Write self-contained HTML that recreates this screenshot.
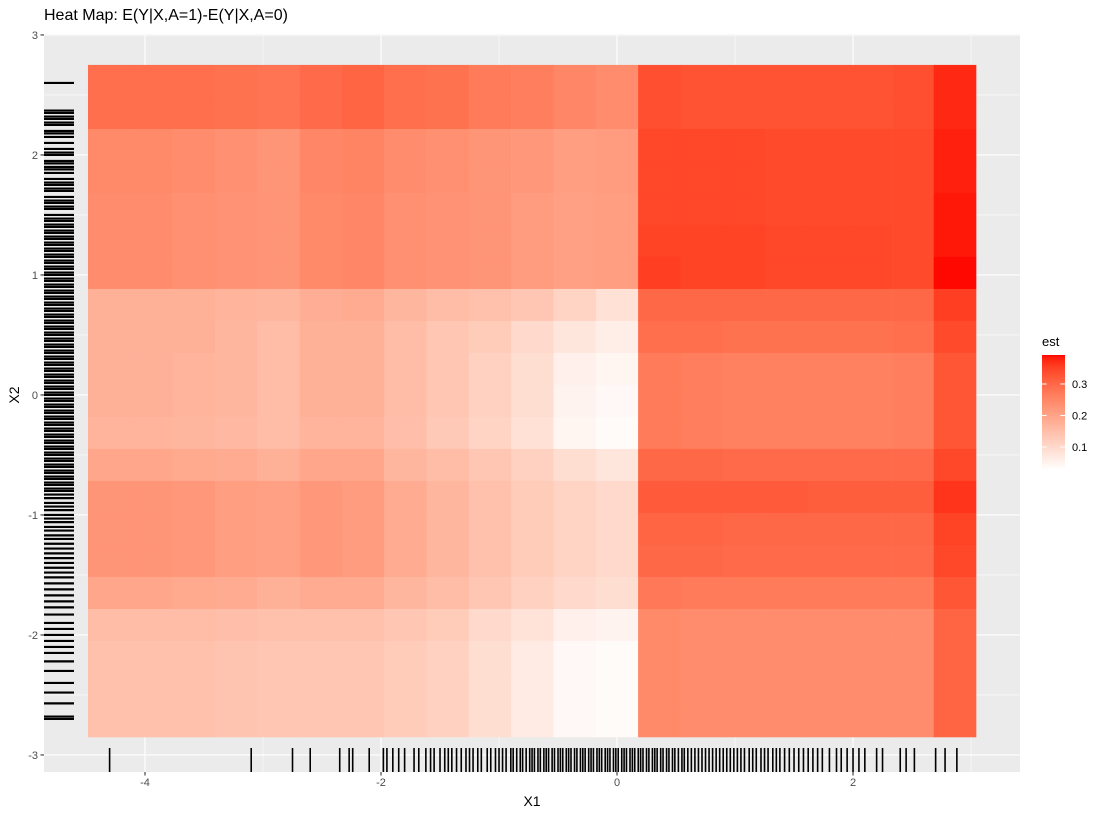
<!DOCTYPE html>
<html><head><meta charset="utf-8"><style>
body{margin:0;background:#fff;width:1104px;height:816px;overflow:hidden}
svg text{font-family:"Liberation Sans",sans-serif}
</style></head><body>
<svg id="chart" width="1104" height="816" xmlns="http://www.w3.org/2000/svg">
<text x="44" y="20" font-size="16" fill="#000">Heat Map: E(Y|X,A=1)-E(Y|X,A=0)</text>
<rect x="44" y="34" width="976" height="738" fill="#EBEBEB"/>
<g id="grid"></g><g id="tiles"></g><g id="rugs"></g><g id="axes"></g><g id="legend"></g>
<text x="532" y="806" font-size="14" text-anchor="middle">X1</text>
<text x="19" y="395" font-size="14" text-anchor="middle" transform="rotate(-90 19 395)">X2</text>
</svg>
<script>
const xCenters=[-4.304,-3.945,-3.587,-3.228,-2.870,-2.511,-2.152,-1.794,-1.435,-1.077,-0.718,-0.359,0.000,0.358,0.717,1.076,1.434,1.793,2.151,2.510,2.863];
const yCenters=[2.617,2.350,2.083,1.817,1.550,1.283,1.017,0.750,0.483,0.217,-0.050,-0.317,-0.583,-0.850,-1.117,-1.383,-1.650,-1.917,-2.183,-2.450,-2.717];
const tileW=0.3586, tileH=0.2667;
const scaleLimits=[0.027,0.392];
const est=[
[.29,.29,.29,.285,.28,.295,.305,.29,.285,.27,.265,.25,.24,.335,.33,.33,.33,.33,.33,.335,.375],
[.29,.29,.29,.285,.28,.295,.305,.29,.285,.27,.265,.25,.24,.335,.33,.33,.33,.33,.33,.335,.375],
[.245,.245,.24,.235,.225,.25,.255,.24,.235,.225,.22,.21,.215,.345,.345,.345,.34,.34,.34,.34,.38],
[.245,.245,.24,.235,.225,.25,.255,.24,.235,.225,.22,.21,.215,.345,.345,.345,.34,.34,.34,.34,.38],
[.24,.24,.235,.23,.225,.245,.25,.235,.23,.225,.215,.205,.21,.345,.345,.345,.34,.34,.34,.34,.385],
[.24,.24,.235,.23,.225,.245,.25,.235,.23,.225,.215,.205,.21,.35,.35,.35,.345,.345,.345,.34,.385],
[.24,.24,.235,.23,.225,.245,.25,.235,.23,.225,.215,.205,.21,.355,.35,.35,.345,.345,.345,.34,.39],
[.175,.175,.175,.17,.165,.18,.185,.165,.155,.145,.135,.11,.085,.3,.3,.3,.3,.3,.3,.3,.355],
[.175,.175,.175,.165,.155,.175,.175,.155,.135,.125,.1,.075,.06,.29,.29,.285,.285,.285,.285,.29,.34],
[.175,.175,.17,.165,.155,.175,.175,.155,.135,.115,.09,.055,.045,.27,.265,.26,.26,.26,.26,.265,.325],
[.175,.175,.17,.165,.155,.175,.175,.155,.135,.115,.09,.05,.04,.27,.265,.26,.26,.26,.26,.265,.325],
[.17,.17,.165,.16,.155,.17,.17,.15,.13,.11,.085,.045,.035,.27,.265,.26,.26,.26,.26,.265,.325],
[.195,.195,.19,.185,.175,.195,.195,.165,.155,.135,.115,.09,.075,.3,.3,.295,.295,.295,.295,.295,.345],
[.225,.225,.22,.21,.205,.22,.215,.185,.165,.145,.125,.11,.1,.32,.32,.32,.32,.315,.315,.315,.365],
[.225,.225,.22,.21,.205,.22,.215,.185,.165,.145,.125,.11,.1,.305,.305,.3,.3,.3,.3,.3,.35],
[.225,.225,.22,.21,.205,.22,.215,.185,.165,.145,.125,.11,.1,.3,.3,.295,.295,.295,.295,.295,.345],
[.195,.195,.19,.185,.175,.185,.185,.165,.155,.135,.115,.1,.09,.275,.27,.27,.27,.27,.27,.27,.325],
[.155,.155,.155,.15,.145,.145,.145,.135,.125,.1,.08,.055,.05,.245,.24,.24,.24,.24,.24,.24,.305],
[.145,.145,.145,.14,.135,.135,.135,.125,.115,.09,.065,.04,.035,.245,.24,.24,.24,.24,.24,.24,.305],
[.145,.145,.145,.14,.135,.135,.135,.125,.115,.09,.065,.04,.035,.245,.24,.24,.24,.24,.24,.24,.305],
[.145,.145,.145,.14,.135,.135,.135,.125,.115,.09,.065,.04,.035,.245,.24,.24,.24,.24,.24,.24,.305]];
const xTicks=[-4,-2,0,2];
const xTickLabels=["-4","-2","0","2"];
const xMinor=[-5,-3,-1,1,3];
const yTicks=[3,2,1,0,-1,-2,-3];
const yTickLabels=["3","2","1","0","-1","-2","-3"];
const yMinor=[2.5,1.5,0.5,-0.5,-1.5,-2.5];
const legendTicks=[0.1,0.2,0.3];
const legendTickLabels=["0.1","0.2","0.3"];
const rugX=[-4.3,-3.1,-2.75,-2.6,-2.35,-2.27,-2.24,-2.1,-1.98,-1.95,-1.9,-1.85,-1.8,-1.72,-1.68,-1.62,-1.58,-1.55,-1.5,-1.46,-1.43,-1.4,-1.36,-1.32,-1.28,-1.25,-1.22,-1.18,-1.15,-1.1,-1.07,-1.03,-1.0,-0.97,-0.94,-0.9,-0.88,-0.85,-0.82,-0.8,-0.77,-0.74,-0.72,-0.7,-0.67,-0.65,-0.62,-0.6,-0.58,-0.55,-0.53,-0.5,-0.48,-0.46,-0.43,-0.41,-0.39,-0.36,-0.34,-0.31,-0.29,-0.27,-0.24,-0.22,-0.2,-0.17,-0.15,-0.13,-0.1,-0.08,-0.06,-0.03,-0.01,0.01,0.04,0.06,0.08,0.11,0.13,0.15,0.18,0.2,0.22,0.25,0.27,0.3,0.32,0.34,0.37,0.39,0.42,0.44,0.47,0.49,0.52,0.55,0.57,0.6,0.63,0.66,0.69,0.72,0.75,0.78,0.81,0.84,0.87,0.9,0.93,0.96,0.99,1.02,1.05,1.08,1.12,1.15,1.18,1.22,1.25,1.28,1.32,1.35,1.38,1.42,1.46,1.5,1.54,1.58,1.62,1.66,1.7,1.74,1.8,1.86,1.9,1.95,2.0,2.05,2.1,2.2,2.25,2.4,2.45,2.52,2.7,2.78,2.88];
const rugY=[2.6,2.37,2.35,2.32,2.3,2.27,2.25,2.2,2.18,2.15,2.1,2.05,2.02,2.0,1.95,1.93,1.9,1.88,1.85,1.8,1.77,1.75,1.72,1.7,1.65,1.62,1.6,1.57,1.55,1.5,1.47,1.45,1.42,1.4,1.37,1.35,1.32,1.3,1.27,1.25,1.22,1.2,1.17,1.15,1.12,1.1,1.07,1.05,1.02,1.0,0.97,0.95,0.92,0.9,0.87,0.85,0.82,0.8,0.77,0.75,0.72,0.7,0.67,0.65,0.62,0.6,0.57,0.55,0.52,0.5,0.47,0.45,0.42,0.4,0.37,0.35,0.32,0.3,0.27,0.25,0.22,0.2,0.17,0.15,0.12,0.1,0.07,0.05,0.02,0.0,-0.03,-0.05,-0.08,-0.1,-0.13,-0.15,-0.18,-0.2,-0.23,-0.25,-0.28,-0.3,-0.33,-0.35,-0.38,-0.4,-0.43,-0.45,-0.48,-0.5,-0.53,-0.55,-0.58,-0.6,-0.63,-0.65,-0.68,-0.7,-0.73,-0.75,-0.78,-0.8,-0.83,-0.86,-0.9,-0.93,-0.96,-1.0,-1.03,-1.06,-1.1,-1.13,-1.17,-1.2,-1.24,-1.28,-1.32,-1.36,-1.4,-1.44,-1.48,-1.52,-1.57,-1.62,-1.67,-1.72,-1.77,-1.83,-1.9,-1.95,-2.0,-2.05,-2.1,-2.15,-2.22,-2.3,-2.4,-2.48,-2.57,-2.68,-2.7];

const NS="http://www.w3.org/2000/svg";
const X0=-4.856,X1=3.415,PX0=44,PX1=1020;
const Y0=3.008,Y1=-3.142,PY0=34,PY1=772;
const sx=v=>PX0+(v-X0)/(X1-X0)*(PX1-PX0);
const sy=v=>PY0+(v-Y0)/(Y1-Y0)*(PY1-PY0);
function mk(tag,attrs,parent){const e=document.createElementNS(NS,tag);for(const k in attrs)e.setAttribute(k,attrs[k]);parent.appendChild(e);return e;}
function toLin(c){c/=255;return c<=0.04045?c/12.92:Math.pow((c+0.055)/1.055,2.4);}
function fromLin(c){const v=c<=0.0031308?12.92*c:1.055*Math.pow(c,1/2.4)-0.055;return Math.max(0,Math.min(255,Math.round(v*255)));}
function rgb2lab(r,g,b){r=toLin(r);g=toLin(g);b=toLin(b);
 let x=(r*0.4124+g*0.3576+b*0.1805)/0.95047,y=(r*0.2126+g*0.7152+b*0.0722),z=(r*0.0193+g*0.1192+b*0.9505)/1.08883;
 const f=t=>t>0.008856?Math.cbrt(t):7.787*t+16/116;x=f(x);y=f(y);z=f(z);return[116*y-16,500*(x-y),200*(y-z)];}
function lab2rgb(L,a,b){let y=(L+16)/116,x=a/500+y,z=y-b/200;const fi=t=>t*t*t>0.008856?t*t*t:(t-16/116)/7.787;
 x=fi(x)*0.95047;y=fi(y);z=fi(z)*1.08883;
 const r=x*3.2406+y*-1.5372+z*-0.4986,g=x*-0.9689+y*1.8758+z*0.0415,bb=x*0.0557+y*-0.2040+z*1.0570;
 return `rgb(${fromLin(r)},${fromLin(g)},${fromLin(bb)})`;}
const LW=rgb2lab(255,255,255),LR=rgb2lab(255,0,0);
const vmin=scaleLimits[0],vmax=scaleLimits[1];
function col(v){const t=Math.max(0,Math.min(1,(v-vmin)/(vmax-vmin)));return lab2rgb(LW[0]+(LR[0]-LW[0])*t,LW[1]+(LR[1]-LW[1])*t,LW[2]+(LR[2]-LW[2])*t);}

const grid=document.getElementById('grid');
xMinor.forEach(v=>{const l=mk('line',{x1:sx(v),x2:sx(v),y1:PY0,y2:PY1,stroke:'#fff','stroke-width':0.55},grid);});
yMinor.forEach(v=>{const l=mk('line',{x1:PX0,x2:PX1,y1:sy(v),y2:sy(v),stroke:'#fff','stroke-width':0.55},grid);});
xTicks.forEach(v=>{const l=mk('line',{x1:sx(v),x2:sx(v),y1:PY0,y2:PY1,stroke:'#fff','stroke-width':1.1},grid);});
yTicks.forEach(v=>{const l=mk('line',{x1:PX0,x2:PX1,y1:sy(v),y2:sy(v),stroke:'#fff','stroke-width':1.1},grid);});

const tiles=document.getElementById('tiles');
est.forEach((row,i)=>row.forEach((v,j)=>{
 const x=sx(xCenters[j]-tileW/2),x2=sx(xCenters[j]+tileW/2),y=sy(yCenters[i]+tileH/2),y2=sy(yCenters[i]-tileH/2);
 const r=mk('rect',{x:x,y:y,width:x2-x+0.3,height:y2-y+0.3,fill:col(v)},tiles);
 
 
}));

const rugs=document.getElementById('rugs');
rugX.forEach(v=>{const l=mk('line',{x1:sx(v),x2:sx(v),y1:748,y2:772,stroke:'#000','stroke-width':1.6},rugs);});
rugY.forEach(v=>{const l=mk('line',{x1:44,x2:74,y1:sy(v),y2:sy(v),stroke:'#000','stroke-width':2.2},rugs);});

const axes=document.getElementById('axes');
xTicks.forEach((v,i)=>{const l=mk('line',{x1:sx(v),x2:sx(v),y1:772,y2:775.5,stroke:'#333','stroke-width':1.1},axes);
 const t=mk('text',{x:sx(v),y:786,'font-size':11,fill:'#4D4D4D','text-anchor':'middle'},axes);t.textContent=xTickLabels[i];});
yTicks.forEach((v,i)=>{const l=mk('line',{x1:40.5,x2:44,y1:sy(v),y2:sy(v),stroke:'#333','stroke-width':1.1},axes);
 const t=mk('text',{x:38,y:sy(v)+4,'font-size':11,fill:'#4D4D4D','text-anchor':'end'},axes);t.textContent=yTickLabels[i];});

const lg=document.getElementById('legend');
const LT=355,LB=470,LX=1042,LWd=23;
const tt=mk('text',{x:1042,y:346,'font-size':13,fill:'#000'},lg);tt.textContent='est';
for(let k=0;k<115;k++){const v=vmax-(k+0.5)/115*(vmax-vmin);const r=mk('rect',{x:LX,y:LT+k,width:LWd,height:1.2,fill:col(v)},lg);}
const ly=v=>LB-(v-vmin)/(vmax-vmin)*(LB-LT);
legendTicks.forEach((v,i)=>{
 const a=mk('line',{x1:LX,x2:LX+4.6,y1:ly(v),y2:ly(v),stroke:'#fff','stroke-width':1},lg);
 const b=mk('line',{x1:LX+LWd-4.6,x2:LX+LWd,y1:ly(v),y2:ly(v),stroke:'#fff','stroke-width':1},lg);
 const t=mk('text',{x:1072,y:ly(v)+4,'font-size':11,fill:'#000'},lg);t.textContent=legendTickLabels[i];});
</script>
</body></html>
